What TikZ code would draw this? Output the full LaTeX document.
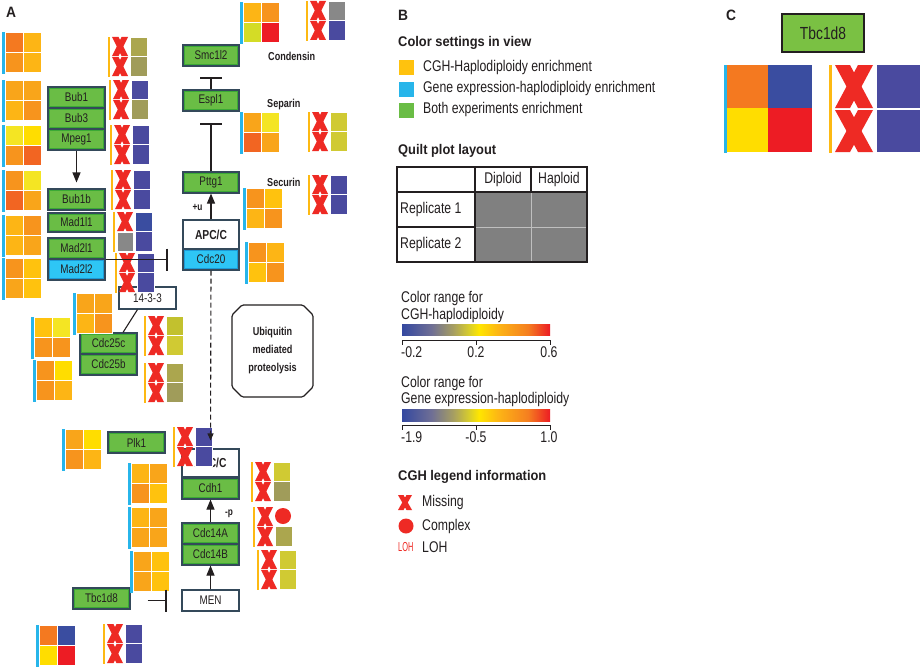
\documentclass[tikz,border=0pt]{standalone}
\usepackage{fontspec}
\setmainfont{Liberation Sans}[FakeStretch=0.79]
\newfontfamily\hdfont{Liberation Sans}[FakeStretch=0.92]
\usetikzlibrary{arrows.meta}
\definecolor{txt}{HTML}{231F20}
\definecolor{cy}{HTML}{27B5EA}
\definecolor{am}{HTML}{FDB913}
\definecolor{gfill}{HTML}{6ABD45}
\definecolor{ginner}{HTML}{3BA935}
\definecolor{bord}{HTML}{34495A}
\definecolor{cfill}{HTML}{2EC6F5}
\definecolor{cinner}{HTML}{1C9BD7}
\definecolor{qO}{HTML}{F7941D}
\definecolor{qR}{HTML}{F26522}
\definecolor{qOR}{HTML}{F47920}
\definecolor{qA}{HTML}{FDB515}
\definecolor{qG}{HTML}{FFC20E}
\definecolor{qY}{HTML}{F4E523}
\definecolor{qD}{HTML}{FFDD00}
\definecolor{qF}{HTML}{F9A51A}
\definecolor{qL}{HTML}{D4DC26}
\definecolor{qRed}{HTML}{ED1C24}
\definecolor{qB}{HTML}{4A4A9F}
\definecolor{qB2}{HTML}{3A4DA0}
\definecolor{qOl}{HTML}{A09C5A}
\definecolor{qOl2}{HTML}{ABA64E}
\definecolor{qYO}{HTML}{C2C12E}
\definecolor{qYO2}{HTML}{D0CA33}
\definecolor{qGr}{HTML}{888888}
\definecolor{qGray}{HTML}{808080}
\definecolor{xred}{HTML}{EE2A24}
\definecolor{cgreen}{HTML}{7AC143}
\definecolor{gb1}{HTML}{3448A0}
\definecolor{gb2}{HTML}{6F6F95}
\definecolor{gb3}{HTML}{A8A060}
\definecolor{gb4}{HTML}{D6CC2E}
\definecolor{gb5}{HTML}{FFE600}
\definecolor{gb6}{HTML}{FDB515}
\definecolor{gb7}{HTML}{F57F20}
\definecolor{gb8}{HTML}{EC1C24}
\pgfdeclarehorizontalshading{cgrad}{100bp}{color(0bp)=(gb1); color(25bp)=(gb1); color(35bp)=(gb2); color(42.5bp)=(gb3); color(47.5bp)=(gb4); color(51bp)=(gb5); color(57.5bp)=(gb6); color(67.5bp)=(gb7); color(75bp)=(gb8); color(100bp)=(gb8)}
\newcommand\myfs[1]{\fontsize{#1}{#1}\selectfont}
% bold X: x, y (top-left), width, height, stroke width at terminals
\newcommand\xmk[5]{%
 \fill[xred] (#1,#2) -- (#1+#5,#2) -- (#1+#3,#2+#4) -- (#1+#3-#5,#2+#4) -- cycle;
 \fill[xred] (#1+#3-#5,#2) -- (#1+#3,#2) -- (#1+#5,#2+#4) -- (#1,#2+#4) -- cycle;}
\newcommand\gq[6]{%
 \fill[cy] (#1,#2) rectangle ++(2.5,42);
 \filldraw[qcell,fill=#3] (#1+3,#2) rectangle ++(18,20);
 \filldraw[qcell,fill=#4] (#1+21,#2) rectangle ++(18,20);
 \filldraw[qcell,fill=#5] (#1+3,#2+20) rectangle ++(18,20);
 \filldraw[qcell,fill=#6] (#1+21,#2+20) rectangle ++(18,20);}
\newcommand\xq[4]{%
 \fill[am] (#1,#2) rectangle ++(2,40);
 \xmk{#1+4}{#2}{16}{19}{6.5}
 \xmk{#1+4}{#2+20}{16}{19}{6.5}
 \filldraw[qcell,fill=#3] (#1+22,#2) rectangle ++(17,19.5);
 \filldraw[qcell,fill=#4] (#1+22,#2+19.5) rectangle ++(17,19.5);}
\begin{document}
\begin{tikzpicture}[x=1pt,y=-1pt,
 qcell/.style={draw=white,line width=0.7},
 gbox/.style={draw=bord,line width=1.1,fill=gfill,minimum width=57pt,minimum height=21pt,inner sep=0pt,font=\myfs{12.5},text=txt,
   path picture={\draw[ginner,line width=3.5pt] (path picture bounding box.south west) rectangle (path picture bounding box.north east);}},
 cbox/.style={gbox,fill=cfill,path picture={\draw[cinner,line width=3.5pt] (path picture bounding box.south west) rectangle (path picture bounding box.north east);}},
 wbox/.style={draw=bord,line width=1.1,fill=white,minimum width=57pt,minimum height=21pt,inner sep=0pt,font=\myfs{12.5},text=txt},
 lab/.style={font=\myfs{11.5}\bfseries,text=txt,inner sep=0pt,anchor=west},
 btxt/.style={font=\myfs{15.5},text=txt,inner sep=0pt,anchor=west},
 bhead/.style={font=\hdfont\myfs{14}\bfseries,text=txt,inner sep=0pt,anchor=west},
 ln/.style={draw=txt,line width=1.1},
 arr/.style={ln,-{Triangle[width=8pt,length=10pt]}},
 darr/.style={ln,dash pattern=on 5pt off 3pt,-{Triangle[width=6pt,length=7pt]}},
 inh/.style={ln,-{Bar[width=22pt,line width=2.5pt]}}]
\useasboundingbox (0,0) rectangle (920,669);
\fill[white] (0,0) rectangle (920,669);
% ---------- Panel A nodes ----------
\node[font=\hdfont\myfs{15}\bfseries,text=txt,inner sep=0pt] (labA) at (11,12) {A};
\node[gbox] (bub1) at (76.5,97.5) {Bub1};
\node[gbox] (bub3) at (76.5,118.5) {Bub3};
\node[gbox] (mpeg1) at (76.5,139.5) {Mpeg1};
\node[gbox] (bub1b) at (76.5,199.5) {Bub1b};
\node[gbox,minimum height=19pt] (mad1l1) at (76.5,222.5) {Mad1l1};
\node[gbox] (mad2l1) at (76.5,248.5) {Mad2l1};
\node[cbox] (mad2l2) at (76.5,269.5) {Mad2l2};
\node[wbox,minimum height=22pt] (p1433) at (147.5,298) {14-3-3};
\node[gbox] (cdc25c) at (108.5,343.5) {Cdc25c};
\node[gbox] (cdc25b) at (108.5,364.5) {Cdc25b};
\node[gbox,minimum width=56pt] (smc1l2) at (211,55.5) {Smc1l2};
\node[gbox,minimum width=56pt] (espl1) at (211,100.5) {Espl1};
\node[gbox,minimum width=56pt] (pttg1) at (211,182.5) {Pttg1};
\node[wbox,minimum width=56pt,minimum height=29pt,font=\myfs{13}\bfseries] (apc1) at (211,234.5) {APC/C};
\node[cbox,minimum width=56pt] (cdc20) at (211,259.5) {Cdc20};
\node[lab] (condensin) at (268,56) {Condensin};
\node[lab] (separin) at (267,105) {Separin};
\node[lab] (securin) at (267,182) {Securin};
\draw[txt,line width=1.2,rounded corners=1.5pt] (242,305) -- (303,305) -- (313,315) -- (313,387) -- (303,397) -- (242,397) -- (232,387) -- (232,315) -- cycle;
\node[inner sep=0pt,align=center,font=\fontsize{11.5}{18}\selectfont\bfseries,text=txt] (ubq) at (272.5,351) {Ubiquitin\\mediated\\proteolysis};
\node[gbox] (plk1) at (136.5,442.5) {Plk1};
\node[wbox,minimum height=28pt,font=\myfs{13}\bfseries] (apc2) at (210.5,463) {APC/C};
\node[gbox] (cdh1) at (210.5,488.5) {Cdh1};
\node[gbox] (cdc14a) at (210.5,533.5) {Cdc14A};
\node[gbox] (cdc14b) at (210.5,554.5) {Cdc14B};
\node[wbox] (men) at (210.5,600.5) {MEN};
\node[gbox] (tbc1d8) at (101.5,598.5) {Tbc1d8};
\node[lab,font=\myfs{10.5}\bfseries,anchor=center] (plusu) at (197.5,207) {+u};
\node[lab,font=\myfs{10.5}\bfseries,anchor=center] (minusp) at (229,514) {-p};
% ---------- gene-expression quilts ----------
\gq{2}{32}{qOR}{qA}{qO}{qA}
\gq{2}{80}{qF}{qF}{qA}{qO}
\gq{2}{125}{qY}{qD}{qO}{qR}
\gq{2}{170}{qO}{qY}{qR}{qF}
\gq{2}{215}{qA}{qO}{qA}{qF}
\gq{2}{258}{qO}{qG}{qF}{qG}
\gq{73}{293}{qF}{qF}{qA}{qO}
\gq{31}{317}{qG}{qY}{qO}{qO}
\gq{33}{360}{qO}{qD}{qO}{qA}
\gq{240}{2}{qA}{qO}{qL}{qRed}
\gq{240}{112}{qF}{qY}{qR}{qF}
\gq{243}{188}{qO}{qG}{qA}{qO}
\gq{245}{242}{qO}{qA}{qG}{qO}
\gq{62}{429}{qF}{qD}{qO}{qA}
\gq{128}{463}{qA}{qF}{qO}{qG}
\gq{128}{507}{qA}{qF}{qF}{qF}
\gq{130}{551}{qF}{qG}{qF}{qG}
\gq{36}{625}{qOR}{qB2}{qD}{qRed}
% ---------- CGH quilts ----------
\xq{108}{37}{qOl2}{qOl}
\xq{109}{80}{qB}{qOl}
\xq{110}{125}{qB}{qB}
\xq{111}{170}{qB}{qB}
\fill[am] (113,212) rectangle ++(2,40);
\xmk{117}{212}{16}{19}{6.5}
\filldraw[qcell,fill=qGr] (117,232) rectangle ++(16,19.5);
\filldraw[qcell,fill=qB2] (135,212) rectangle ++(17,19.5);
\filldraw[qcell,fill=qB] (135,231.5) rectangle ++(17,19.5);
\xq{115}{253}{qB}{qB}
\xq{144}{316}{qYO}{qYO2}
\xq{144}{363}{qOl2}{qOl}
\xq{306}{1}{qGr}{qB}
\xq{308}{112}{qYO2}{qYO2}
\xq{308}{175}{qB}{qB}
\xq{173}{427}{qB}{qB}
\xq{251}{462}{qYO2}{qOl}
\fill[am] (253,507) rectangle ++(2,40);
\xmk{257}{507}{16}{19}{6.5}
\xmk{257}{527}{16}{19}{6.5}
\fill[xred] (283,516) circle (8);
\filldraw[qcell,fill=qOl2] (275,526.5) rectangle ++(17,19.5);
\xq{257}{550}{qYO2}{qYO2}
\xq{103}{624}{qB}{qB}
% ---------- connectors ----------
\draw[arr,shorten >=6pt] (mpeg1.south) -- (bub1b.north);
\draw[inh,shorten >=14pt] (mad2l1.south east) -- (mad2l1.south east -| cdc20.west);
\draw[ln] ([xshift=-10pt]p1433.south) -- ([xshift=14.5pt]cdc25c.north);
\draw[inh,shorten >=10pt] (espl1.north) -- (smc1l2.south);
\draw[inh,shorten >=11pt] (pttg1.north) -- (espl1.south);
\draw[arr] (apc1.north) -- (pttg1.south);
\draw[darr,shorten >=8pt] (cdc20.south) -- (apc2.north);
\draw[arr] (cdc14a.north) -- (cdh1.south);
\draw[arr] (men.north) -- (cdc14b.south);
\draw[inh,shorten <=17pt,shorten >=14pt] (tbc1d8.east |- men.west) -- (men.west);
% ---------- Panel B ----------
\node[font=\hdfont\myfs{15}\bfseries,text=txt,inner sep=0pt,anchor=west] (labB) at (398,15.5) {B};
\node[bhead] (csv) at (398,42.5) {Color settings in view};
\fill[qG] (399,60) rectangle (414,75);
\fill[cy] (399,82) rectangle (414,97);
\fill[gfill] (399,103) rectangle (414,118);
\node[btxt] (l1) at (423,67.5) {CGH-Haplodiploidy enrichment};
\node[btxt] (l2) at (423,88.5) {Gene expression-haplodiploidy enrichment};
\node[btxt] (l3) at (423,109.5) {Both experiments enrichment};
\node[bhead] (qpl) at (398,151) {Quilt plot layout};
\fill[qGray] (475,192) rectangle (587,262);
\draw[black!25,line width=0.8] (531,192) -- (531,262) (475,227) -- (587,227);
\draw[txt,line width=1.2] (397,167) rectangle (587,262);
\draw[txt,line width=1.2] (475,167) -- (475,262) (531,167) -- (531,192) (397,192) -- (587,192) (397,227) -- (475,227);
\node[btxt,anchor=center] (dip) at (503,179.5) {Diploid};
\node[btxt,anchor=center] (hap) at (559,179.5) {Haploid};
\node[btxt] (rep1) at (400,209.5) {Replicate 1};
\node[btxt] (rep2) at (400,244.5) {Replicate 2};
\node[btxt] (cr1a) at (401,298) {Color range for};
\node[btxt] (cr1b) at (401,315) {CGH-haplodiploidy};
\shade[shading=cgrad] (402,324) rectangle (550,335);
\draw[txt,line width=0.8] (402,340) -- (550,340) (402,340) -- (402,345) (476,340) -- (476,345) (550,340) -- (550,345);
\node[btxt] (t1) at (401,352) {-0.2};
\node[btxt,anchor=center] (t2) at (476,352) {0.2};
\node[btxt,anchor=center] (t3) at (549,352) {0.6};
\node[btxt] (cr2a) at (401,383) {Color range for};
\node[btxt] (cr2b) at (401,399.5) {Gene expression-haplodiploidy};
\shade[shading=cgrad] (402,409) rectangle (550,421);
\draw[txt,line width=0.8] (402,425) -- (550,425) (402,425) -- (402,430) (476,425) -- (476,430) (550,425) -- (550,430);
\node[btxt] (t4) at (401,437) {-1.9};
\node[btxt,anchor=center] (t5) at (476,437) {-0.5};
\node[btxt,anchor=center] (t6) at (549,437) {1.0};
\node[bhead] (cghl) at (398,477) {CGH legend information};
\xmk{398}{495}{14}{15}{5.5}
\node[btxt] (miss) at (422,502) {Missing};
\fill[xred] (406,526) circle (7.5);
\node[btxt] (cplx) at (422,526) {Complex};
\node[inner sep=0pt,text=xred,font=\myfs{13},anchor=west,xscale=0.72] (lohi) at (398,547) {LOH};
\node[btxt] (loh) at (422,547) {LOH};
% ---------- Panel C ----------
\node[font=\hdfont\myfs{15}\bfseries,text=txt,inner sep=0pt,anchor=west] (labC) at (726,15.5) {C};
\node[draw=txt,line width=1.2,fill=cgreen,minimum width=82pt,minimum height=38pt,inner sep=0pt,font=\myfs{17.5},text=txt] (tbcC) at (823,33) {Tbc1d8};
\fill[cy] (724,65) rectangle (727,153);
\fill[qOR] (727,65) rectangle (768,108);
\fill[qB2] (768,65) rectangle (812,108);
\fill[qD] (727,108) rectangle (768,152);
\fill[qRed] (768,108) rectangle (812,152);
\fill[am] (829,65) rectangle (832,153);
\xmk{835}{65}{38}{43}{15}
\xmk{835}{110}{38}{42}{15}
\fill[qB] (877,65) rectangle (920,108);
\fill[qB] (877,109.5) rectangle (920,152);
\end{tikzpicture}
\end{document}
